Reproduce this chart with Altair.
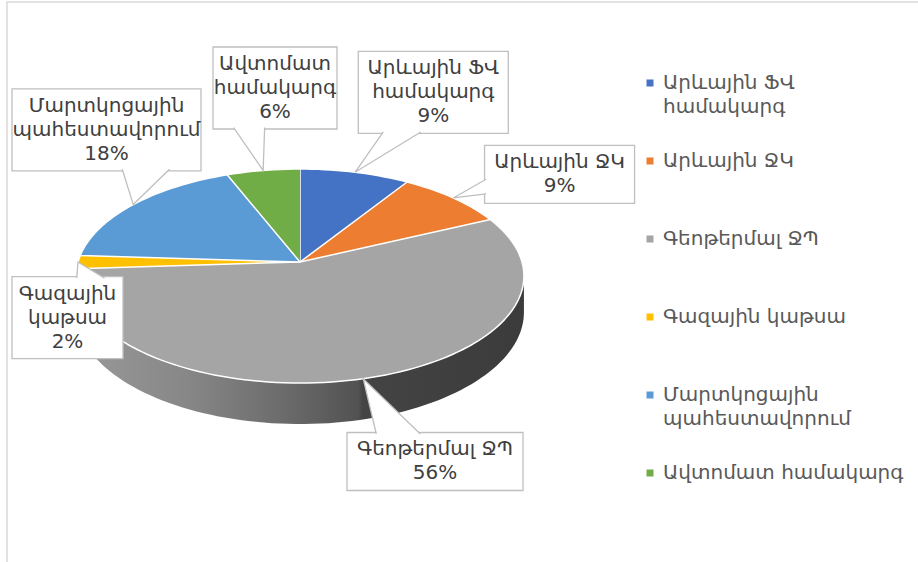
import math
import altair as alt

# ---------------- data ----------------
categories = [
    "Արևային ՖՎ համակարգ",
    "Արևային ՋԿ",
    "Գեոթերմալ ՋՊ",
    "Գազային կաթսա",
    "Մարտկոցային պահեստավորում",
    "Ավտոմատ համակարգ",
]
shares = [9, 9, 56, 2, 18, 6]
colors = ["#4472C4", "#ED7D31", "#A5A5A5", "#FFC000", "#5B9BD5", "#70AD47"]

# ---------------- layout / style ----------------
PAGE_W, PAGE_H = 918, 562
PAD_L, PAD_T = 7, 2
FONT = "DejaVu Sans"
FS = 20            # font size
LH = 24            # line height
CX, CY = 300.0, 262.0      # pie apex on the page
RX, RY = 222.0, 105.2      # pie radii (screen)
PERSP = 0.131              # perspective strength
THICK = 35.6               # pie thickness
CALLOUT_WRAP, LEGEND_WRAP = 12, 16
CHAR_W, BOX_PX, BOX_PY = 13, 10, 5
GAP, CLEAR, BOX_SEP, KX = 30, 8, 12, 1.6
LEGEND_LEFT = 645
LEG_SQ_X, LEG_TX_X, LEG_Y0, LEG_STEP = 650, 663, 83, 78
SIDE_STOPS = [(0.0, 0.93), (0.25, 0.82), (0.45, 0.66), (0.63, 0.5), (0.64, 0.41), (1.0, 0.36)]


def project(a, r=1.0, z=0.0):
    u = r * math.sin(a)
    v = -r * math.cos(a)
    s = 1.0 / (1.0 - PERSP * v)
    return CX + RX * u * s, CY + (RY * v + THICK * z) * s


def wrap(text, limit):
    if len(text) <= limit or " " not in text:
        return [text]
    i = text.rfind(" ")
    return [text[:i], text[i + 1:]]


def shade(hex_color, f):
    r, g, b = (int(hex_color[i:i + 2], 16) for i in (1, 3, 5))
    return "#%02x%02x%02x" % (round(r * f), round(g * f), round(b * f))


total = float(sum(shares))
angles = []
acc = 0.0
for s in shares:
    a0 = 2 * math.pi * acc / total
    acc += s
    angles.append((a0, 2 * math.pi * acc / total))

# ---------------- top surface ----------------
top_rows = []
for cat, (a0, a1) in zip(categories, angles):
    top_rows.append({"slice": cat, "k": 0, "x": CX, "y": CY})
    n = max(4, int(200 * (a1 - a0) / (2 * math.pi)))
    for j in range(n + 1):
        x, y = project(a0 + (a1 - a0) * j / n)
        top_rows.append({"slice": cat, "k": j + 1, "x": x, "y": y})

# ---------------- visible side walls ----------------
A_LO = math.acos(-PERSP)
A_HI = 2 * math.pi - A_LO
side_layers = []
for cat, col, (a0, a1) in zip(categories, colors, angles):
    s0, s1 = max(a0, A_LO), min(a1, A_HI)
    if s1 <= s0:
        continue
    n = max(4, int(200 * (s1 - s0) / (2 * math.pi)))
    pts = [project(s0 + (s1 - s0) * j / n) for j in range(n + 1)]
    pts += [project(s0 + (s1 - s0) * j / n, z=1.0) for j in reversed(range(n + 1))]
    rows = [{"slice": cat, "k": k, "x": x, "y": y} for k, (x, y) in enumerate(pts)]
    grad = alt.Gradient(
        gradient="linear", x1=0, x2=1, y1=0, y2=0,
        stops=[alt.GradientStop(offset=o, color=shade(col, f)) for o, f in SIDE_STOPS],
    )
    side_layers.append((rows, grad))

# ---------------- callouts ----------------
boxes = []
for cat, share, (a0, a1) in zip(categories, shares, angles):
    lines = wrap(cat, CALLOUT_WRAP) + [f"{share}%"]
    w = max(len(l) for l in lines) * CHAR_W + 2 * BOX_PX
    h = len(lines) * LH + 2 * BOX_PY
    mid = (a0 + a1) / 2
    tx, ty = project(mid)
    dx, dy = KX * RX * math.sin(mid), -RY * math.cos(mid)
    nrm = math.hypot(dx, dy)
    dx, dy = dx / nrm, dy / nrm
    ext = abs(dx) * w / 2 + abs(dy) * h / 2
    bx, by = tx + dx * (GAP + ext), ty + dy * (GAP + ext)
    bx = min(max(bx, PAD_L + w / 2 + 5), LEGEND_LEFT - w / 2 - 5)
    by = min(max(by, PAD_T + h / 2 + 5), PAGE_H - h / 2 - 5)
    down = -math.cos(mid) >= -1e-9
    for j in range(21):
        rx_, ry_ = project(a0 + (a1 - a0) * j / 20)
        if bx - w / 2 - CLEAR < rx_ < bx + w / 2 + CLEAR:
            if down:
                by = max(by, ry_ + CLEAR + h / 2)
            else:
                by = min(by, ry_ - CLEAR - h / 2)
    boxes.append({"slice": cat, "lines": lines, "w": w, "h": h, "bx": bx, "by": by, "tx": tx, "ty": ty})


def feasible(bx, by, w, h):
    return (PAD_L + w / 2 + 4 <= bx <= LEGEND_LEFT - w / 2 - 4
            and PAD_T + h / 2 + 4 <= by <= PAGE_H - h / 2 - 4)


placed = []
for b in sorted(boxes, key=lambda d: d["bx"]):
    for _ in range(6):
        moved = False
        for o in placed:
            ox = abs(b["bx"] - o["bx"]) < (b["w"] + o["w"]) / 2 + BOX_SEP
            oy = abs(b["by"] - o["by"]) < (b["h"] + o["h"]) / 2 + BOX_SEP
            if not (ox and oy):
                continue
            cands = [
                (o["bx"] + (o["w"] + b["w"]) / 2 + BOX_SEP, b["by"]),
                (o["bx"] - (o["w"] + b["w"]) / 2 - BOX_SEP, b["by"]),
                (b["bx"], o["by"] + (o["h"] + b["h"]) / 2 + BOX_SEP),
                (b["bx"], o["by"] - (o["h"] + b["h"]) / 2 - BOX_SEP),
            ]
            cands = [c for c in cands if feasible(c[0], c[1], b["w"], b["h"])]
            if cands:
                c = min(cands, key=lambda c: abs(c[0] - b["bx"]) + abs(c[1] - b["by"]))
                b["bx"], b["by"] = c
                moved = True
        if not moved:
            break
    placed.append(b)

box_rows, tail_rows, text_rows = [], [], []
INSET = 1.5
for b in boxes:
    bx, by, w, h, tx, ty = b["bx"], b["by"], b["w"], b["h"], b["tx"], b["ty"]
    box_rows.append({"slice": b["slice"], "x0": bx - w / 2, "x1": bx + w / 2, "y0": by - h / 2, "y1": by + h / 2})
    rx_, ry_ = (tx - bx) / w, (ty - by) / h
    if abs(rx_) > abs(ry_):
        ex = bx - w / 2 + INSET if rx_ < 0 else bx + w / 2 - INSET
        if ry_ >= 0:
            ys = (by + h / 2 - h * 5 / 12, by + h / 2 - h / 6)
        else:
            ys = (by - h / 2 + h / 6, by - h / 2 + h * 5 / 12)
        base = [(ex, ys[0]), (ex, ys[1])]
    else:
        ey = by - h / 2 + INSET if ry_ < 0 else by + h / 2 - INSET
        if rx_ >= 0:
            xs = (bx + w / 2 - w * 5 / 12, bx + w / 2 - w / 6)
        else:
            xs = (bx - w / 2 + w / 6, bx - w / 2 + w * 5 / 12)
        base = [(xs[0], ey), (xs[1], ey)]
    for k, (x, y) in enumerate([base[0], (tx, ty), base[1]]):
        tail_rows.append({"slice": b["slice"], "k": k, "x": x, "y": y})
    n = len(b["lines"])
    text_rows.append({"slice": b["slice"], "lines": b["lines"], "x": bx,
                      "y": by - n * LH / 2 + (LH - FS) / 2})

legend_rows = []
for i, (cat, col) in enumerate(zip(categories, colors)):
    yc = LEG_Y0 + LEG_STEP * i
    legend_rows.append({"slice": cat, "lines": wrap(cat, LEGEND_WRAP),
                        "sx": LEG_SQ_X, "tx": LEG_TX_X, "yc": yc, "yt": yc - 10.5})

# ---------------- chart ----------------
XS = alt.Scale(domain=[PAD_L, PAGE_W], nice=False, zero=False)
YS = alt.Scale(domain=[PAD_T, PAGE_H], nice=False, zero=False, reverse=True)


def X(f):
    return alt.X(f"{f}:Q", scale=XS, axis=None)


def Y(f):
    return alt.Y(f"{f}:Q", scale=YS, axis=None)


layers = []

frame = alt.Chart(alt.Data(values=[{"a": 1}])).mark_rect(
    filled=False, stroke="#d9d9d9", strokeWidth=1.5
).encode(x=alt.value(0), x2=alt.value(PAGE_W + 20), y=alt.value(0), y2=alt.value(PAGE_H + 20))
layers.append(frame)

for rows, grad in side_layers:
    layers.append(
        alt.Chart(alt.Data(values=rows)).mark_line(fill=grad, strokeOpacity=0).encode(
            x=X("x"), y=Y("y"), order=alt.Order("k:Q"), detail="slice:N"
        )
    )

layers.append(
    alt.Chart(alt.Data(values=top_rows)).mark_line(stroke="white", strokeWidth=1.5, strokeJoin="round").encode(
        x=X("x"), y=Y("y"), order=alt.Order("k:Q"),
        fill=alt.Fill("slice:N", scale=alt.Scale(domain=categories, range=colors), legend=None),
    )
)

layers.append(
    alt.Chart(alt.Data(values=box_rows)).mark_rect(fill="white", stroke="#bfbfbf", strokeWidth=1.3).encode(
        x=X("x0"), x2="x1:Q", y=Y("y0"), y2="y1:Q"
    )
)
layers.append(
    alt.Chart(alt.Data(values=tail_rows)).mark_line(fill="white", stroke="#bfbfbf", strokeWidth=1.3).encode(
        x=X("x"), y=Y("y"), order=alt.Order("k:Q"), detail="slice:N"
    )
)
layers.append(
    alt.Chart(alt.Data(values=text_rows)).mark_text(
        align="center", baseline="top", font=FONT, fontSize=FS, lineHeight=LH, color="#404040"
    ).encode(x=X("x"), y=Y("y"), text="lines:N")
)

layers.append(
    alt.Chart(alt.Data(values=legend_rows)).mark_square(size=49, opacity=1).encode(
        x=X("sx"), y=Y("yc"),
        color=alt.Color("slice:N", scale=alt.Scale(domain=categories, range=colors), legend=None),
    )
)
layers.append(
    alt.Chart(alt.Data(values=legend_rows)).mark_text(
        align="left", baseline="top", font=FONT, fontSize=FS, lineHeight=LH, color="#595959"
    ).encode(x=X("tx"), y=Y("yt"), text="lines:N")
)

chart = alt.layer(*layers).properties(
    width=PAGE_W - PAD_L,
    height=PAGE_H - PAD_T,
    autosize=alt.AutoSizeParams(type="none"),
    padding={"left": PAD_L, "top": PAD_T, "right": 0, "bottom": 0},
    background="white",
).configure_view(strokeWidth=0)

chart.save("out.html", embed_options={"renderer": "svg", "actions": False})
